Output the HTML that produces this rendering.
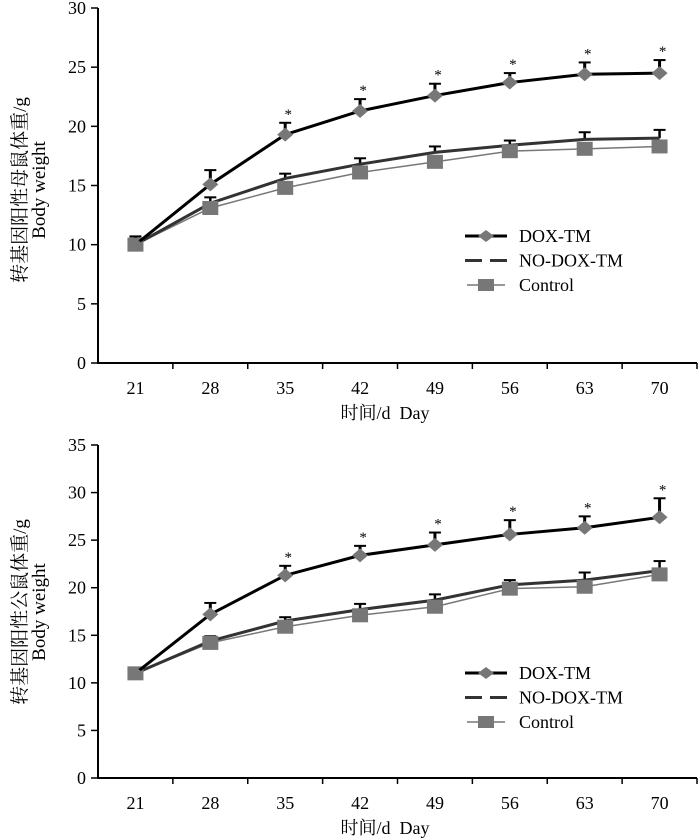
<!DOCTYPE html>
<html><head><meta charset="utf-8"><style>
body{margin:0;background:#fff}
svg{display:block;font-family:"Liberation Serif","Noto Serif CJK SC",serif}
</style></head><body>
<svg id="c" width="700" height="840" viewBox="0 0 700 840"></svg>
<script>
const days=["21","28","35","42","49","56","63","70"];
const femDox=[10,15.1,19.3,21.3,22.6,23.7,24.4,24.5];
const femDoxErr=[0.7,1.2,1.0,1.0,1.0,0.8,1.0,1.1];
const femNo=[10,13.5,15.6,16.8,17.8,18.4,18.9,19.0];
const femNoErr=[0.5,0.5,0.4,0.5,0.5,0.4,0.6,0.7];
const femCtl=[10,13.1,14.8,16.1,17.0,17.9,18.1,18.3];
const femSig=[0,0,1,1,1,1,1,1];
const malDox=[11,17.2,21.3,23.4,24.5,25.6,26.3,27.4];
const malDoxErr=[0.4,1.2,1.0,1.0,1.3,1.5,1.2,2.0];
const malNo=[11,14.4,16.5,17.7,18.7,20.3,20.8,21.8];
const malNoErr=[0.5,0.5,0.4,0.6,0.6,0.5,0.8,1.0];
const malCtl=[11,14.2,15.9,17.1,18.0,19.9,20.1,21.4];
const malSig=[0,0,1,1,1,1,1,1];
const femTicks=[0,5,10,15,20,25,30];
const malTicks=[0,5,10,15,20,25,30,35];

const NS="http://www.w3.org/2000/svg";
const svg=document.getElementById('c');
function el(t,a,p){const e=document.createElementNS(NS,t);for(const k in a)e.setAttribute(k,a[k]);(p||svg).appendChild(e);return e;}

function chart(cfg){
  const g=el('g',{});
  
  
  const x0=98,x1=697,y0=cfg.y0,yT=cfg.yT,max=cfg.ticks[cfg.ticks.length-1];
  const step=(x1-x0)/days.length;
  const X=i=>x0+step*(i+0.5);
  const Y=v=>y0-(y0-yT)*v/max;
  const ax=el('path',{d:`M${x0} ${yT}V${y0}H${x1}`,stroke:'#000','stroke-width':2,fill:'none'},g);
  
  cfg.ticks.forEach(t=>{
    el('line',{x1:x0-7,x2:x0,y1:Y(t),y2:Y(t),stroke:'#000','stroke-width':1.5},g);
    const tx=el('text',{x:x0-12,y:Y(t)+6,'text-anchor':'end','font-size':18},g);tx.textContent=t;
    
  });
  for(let i=1;i<=days.length;i++)el('line',{x1:x0+step*i,x2:x0+step*i,y1:y0,y2:y0+6,stroke:'#000','stroke-width':1.5},g);
  days.forEach((d,i)=>{const tx=el('text',{x:X(i),y:y0+31,'text-anchor':'middle','font-size':18},g);tx.textContent=d;
    });
  const xt=el('text',{x:385,y:y0+56,'text-anchor':'middle','font-size':18},g);xt.textContent='时间/d\u00a0\u00a0Day';
  
  const cy=cfg.titleY;
  const yt=el('text',{x:0,y:0,transform:`translate(26 ${cy}) rotate(-90)`,'text-anchor':'middle','font-size':19},g);yt.textContent=cfg.title;
  
  const yt2=el('text',{x:0,y:0,transform:`translate(45 ${cy}) rotate(-90)`,'text-anchor':'middle','font-size':19},g);yt2.textContent='Body weight';
  
  function err(vals,errs,w){vals.forEach((v,i)=>{
    el('line',{x1:X(i),x2:X(i),y1:Y(v),y2:Y(v+errs[i]),stroke:'#000','stroke-width':w},g);
    el('line',{x1:X(i)-6,x2:X(i)+6,y1:Y(v+errs[i]),y2:Y(v+errs[i]),stroke:'#000','stroke-width':2},g);});}
  err(cfg.no,cfg.noErr,2.5);err(cfg.dox,cfg.doxErr,3);
  const pts=a=>a.map((v,i)=>X(i)+','+Y(v)).join(' ');
  const lc=el('polyline',{points:pts(cfg.ctl),fill:'none',stroke:'#777','stroke-width':1.5},g);
  
  const ln=el('polyline',{points:pts(cfg.no),fill:'none',stroke:'#333','stroke-width':3},g);
  
  cfg.ctl.forEach((v,i)=>{const r=el('rect',{x:X(i)-8,y:Y(v)-7,width:16,height:14,fill:'#777'},g);
    });
  const ld=el('polyline',{points:pts(cfg.dox),fill:'none',stroke:'#000','stroke-width':3},g);
  
  cfg.dox.forEach((v,i)=>{const m=el('path',{d:`M${X(i)-8} ${Y(v)}L${X(i)} ${Y(v)-7}L${X(i)+8} ${Y(v)}L${X(i)} ${Y(v)+7}Z`,fill:'#777'},g);
    
    if(cfg.sig[i]){const s=el('text',{x:X(i)+3,y:Y(v+cfg.doxErr[i])-4,'text-anchor':'middle','font-size':15},g);s.textContent='*';
      }});
  const L=cfg.legY, lx=465;
  const names=['DOX-TM','NO-DOX-TM','Control'];
  names.forEach((n,k)=>{const yy=L+k*24.5;
    const lg=el('g',{},g);
    if(k==0){el('line',{x1:lx,x2:lx+42,y1:yy,y2:yy,stroke:'#000','stroke-width':3},lg);
      el('path',{d:`M${lx+13} ${yy}L${lx+21} ${yy-6}L${lx+29} ${yy}L${lx+21} ${yy+6}Z`,fill:'#777'},lg);}
    else if(k==1){el('line',{x1:lx,x2:lx+42,y1:yy,y2:yy,stroke:'#333','stroke-width':3,'stroke-dasharray':'17 8'},lg);}
    else{el('line',{x1:lx+2,x2:lx+40,y1:yy,y2:yy,stroke:'#777','stroke-width':1.5},lg);
      el('rect',{x:lx+13,y:yy-6,width:16,height:12,fill:'#777'},lg);}
    const t=el('text',{x:lx+54,y:yy+6,'font-size':18},lg);t.textContent=n;});
}
chart({name:'female-chart',y0:363,yT:8,ticks:femTicks,dox:femDox,doxErr:femDoxErr,no:femNo,noErr:femNoErr,ctl:femCtl,sig:femSig,
  title:'转基因阳性母鼠体重/g',titleY:190,legY:236});
chart({name:'male-chart',y0:778,yT:445,ticks:malTicks,dox:malDox,doxErr:malDoxErr,no:malNo,noErr:malNoErr,ctl:malCtl,sig:malSig,
  title:'转基因阳性公鼠体重/g',titleY:612,legY:673});
</script>
</body></html>
